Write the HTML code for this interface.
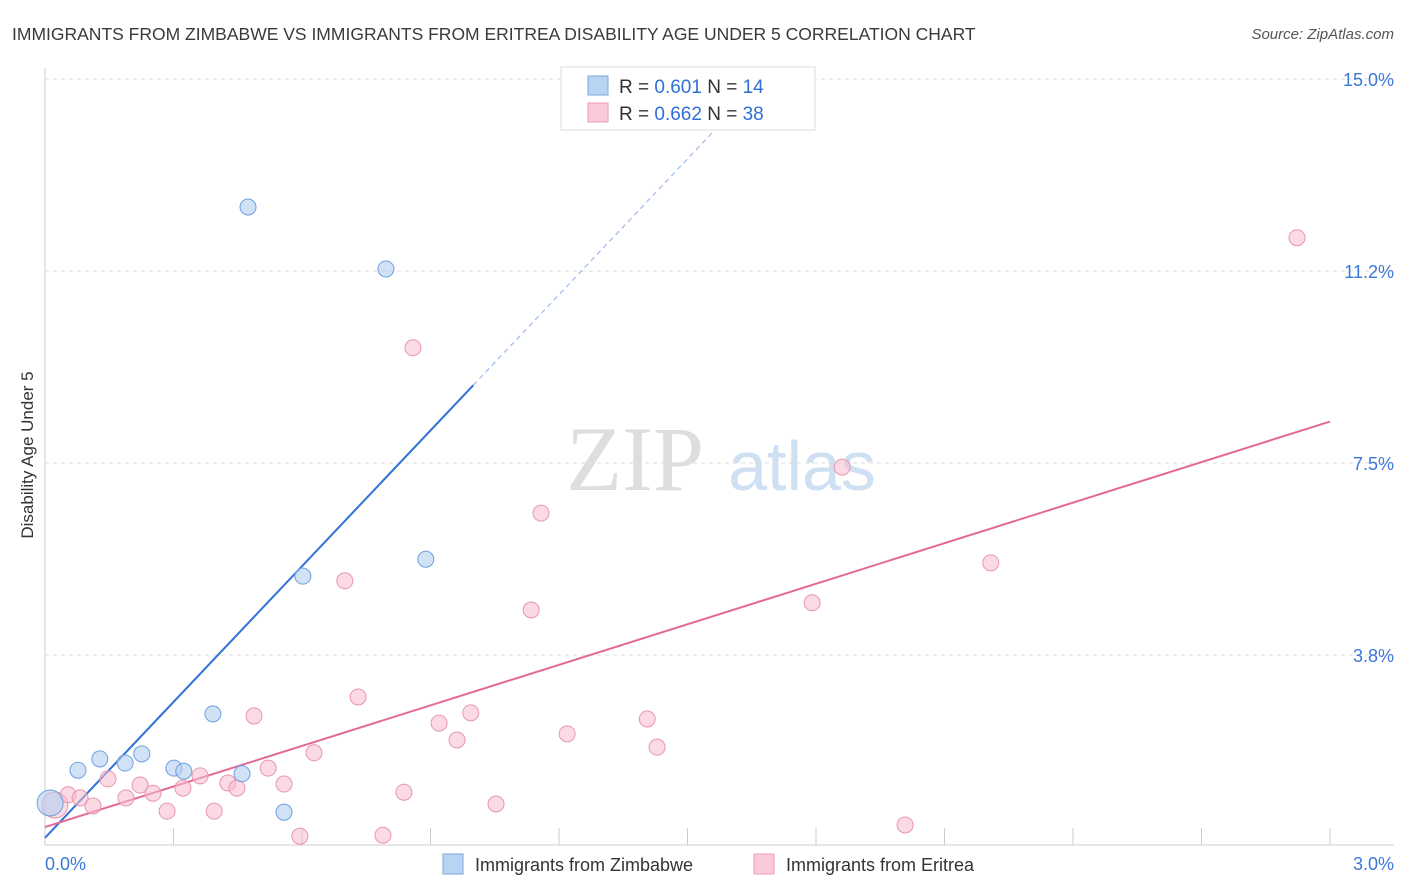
<!DOCTYPE html>
<html><head><meta charset="utf-8"><style>
body{margin:0;background:#fff;font-family:"Liberation Sans",sans-serif;}
svg{display:block}
</style></head><body>
<svg id="chart" width="1406" height="892">
<text x="12" y="40" font-size="17.5" fill="#3a3a3a">IMMIGRANTS FROM ZIMBABWE VS IMMIGRANTS FROM ERITREA DISABILITY AGE UNDER 5 CORRELATION CHART</text>
<text x="1394" y="39" font-size="15" fill="#555" text-anchor="end" font-style="italic">Source: ZipAtlas.com</text>
<text x="33" y="455" font-size="17" fill="#333" text-anchor="middle" transform="rotate(-90 33 455)">Disability Age Under 5</text>
<g>
<text x="635" y="490" font-size="92" fill="#dedede" text-anchor="middle" font-family="Liberation Serif,serif">ZIP</text>
<text x="802" y="490" font-size="70" fill="#cfe0f3" text-anchor="middle">atlas</text>
</g>
<g id="grid"></g><g id="axes"></g><g id="lines"></g><g id="pts"></g>
<g>
<rect x="561" y="67" width="254" height="63" fill="#fff" stroke="#ddd"/>
<rect x="588" y="76" width="20" height="19" fill="#b9d3f3" stroke="#7aa7e0"/>
<rect x="588" y="103" width="20" height="19" fill="#fbc9d8" stroke="#ee9bb5"/>
<text x="619" y="93" font-size="19" fill="#333">R = <tspan fill="#2f6fd8">0.601</tspan>   N = <tspan fill="#2f6fd8">14</tspan></text>
<text x="619" y="120" font-size="19" fill="#333">R = <tspan fill="#2f6fd8">0.662</tspan>   N = <tspan fill="#2f6fd8">38</tspan></text>
</g>
<g>
<rect x="443" y="854" width="20" height="20" fill="#b9d3f3" stroke="#7aa7e0"/>
<text x="475" y="871" font-size="18" fill="#333">Immigrants from Zimbabwe</text>
<rect x="754" y="854" width="20" height="20" fill="#fbc9d8" stroke="#ee9bb5"/>
<text x="786" y="871" font-size="18" fill="#333">Immigrants from Eritrea</text>
</g>
</svg>
<script>
const yTicks=[3.75,7.5,11.25,15];
const yTickLabels=["3.8%","7.5%","11.2%","15.0%"];
const xTickCount=10;
const xLabels=["0.0%","3.0%"];
const blueX=[0.012,0.077,0.128,0.187,0.226,0.301,0.324,0.392,0.460,0.474,0.558,0.602,0.796,0.889];
const blueY=[0.86,1.50,1.72,1.64,1.82,1.54,1.48,2.60,1.43,12.50,0.68,5.29,11.29,5.62];
const pinkX=[0.023,0.054,0.082,0.112,0.147,0.189,0.222,0.252,0.285,0.322,0.362,0.395,0.427,0.448,0.488,0.521,0.558,0.595,0.628,0.700,0.731,0.789,0.838,0.859,0.920,0.962,0.994,1.053,1.135,1.158,1.219,1.406,1.429,1.791,1.861,2.008,2.208,2.923];
const pinkY=[0.82,1.02,0.96,0.80,1.33,0.96,1.21,1.05,0.70,1.15,1.39,0.70,1.25,1.15,2.56,1.54,1.23,0.21,1.84,5.20,2.93,0.23,1.07,9.75,2.42,2.09,2.62,0.84,4.63,6.52,2.21,2.50,1.95,4.77,7.42,0.43,5.55,11.90];
const blueFit=[0.18,8.84]; // intercept, slope
const pinkFit=[0.39,2.64];
const NS="http://www.w3.org/2000/svg";
const X=v=>45+v/3*1285, Y=v=>847-v/3.75*192;
function mk(tag,attrs,parent){const e=document.createElementNS(NS,tag);for(const k in attrs)e.setAttribute(k,attrs[k]);document.getElementById(parent).appendChild(e);return e;}
yTicks.forEach((t,i)=>{
 const l=mk('line',{x1:45,x2:1394,y1:Y(t),y2:Y(t),stroke:'#ddd','stroke-dasharray':'4,4'},'grid');
 
 
 const tx=mk('text',{x:1394,y:Y(t)+7,'font-size':18,fill:'#3b78d8','text-anchor':'end'},'grid');
 tx.textContent=yTickLabels[i];
 
 
});
const ax=mk('line',{x1:45,x2:45,y1:68,y2:845,stroke:'#ccc'},'axes');


const bx=mk('line',{x1:45,x2:1394,y1:845,y2:845,stroke:'#ccc'},'axes');


for(let i=0;i<=xTickCount;i++){
 const t=mk('line',{x1:X(i*0.3),x2:X(i*0.3),y1:828,y2:845,stroke:'#ccc'},'axes');
 
 
}
[[0,'start',45],[3,'end',1394]].forEach((d,i)=>{
 const tx=mk('text',{x:d[2],y:870,'font-size':18,fill:'#3b78d8','text-anchor':d[1]},'axes');
 tx.textContent=xLabels[i];
 
 
});
// trend lines
const bEnd=1.0;
const bl=mk('line',{x1:X(0),y1:Y(blueFit[0]),x2:X(bEnd),y2:Y(blueFit[0]+blueFit[1]*bEnd),stroke:'#2e72d8','stroke-width':2},'lines');


const bMax=(15-blueFit[0])/blueFit[1]*0.96+0.0;
const bd=mk('line',{x1:X(bEnd),y1:Y(blueFit[0]+blueFit[1]*bEnd),x2:X(bMax),y2:Y(blueFit[0]+blueFit[1]*bMax),stroke:'#9bbbe8','stroke-width':1.2,'stroke-dasharray':'5,4'},'lines');


const pl=mk('line',{x1:X(0),y1:Y(pinkFit[0]),x2:X(3),y2:Y(pinkFit[0]+pinkFit[1]*3),stroke:'#e46a96','stroke-width':2},'lines');


pinkX.forEach((x,i)=>{
 const c=mk('circle',{cx:X(x),cy:Y(pinkY[i]),r:i==0?13:8,fill:'#f7bccd','fill-opacity':0.55,stroke:'#e896b0','stroke-width':1},'pts');
 
 
});
blueX.forEach((x,i)=>{
 const c=mk('circle',{cx:X(x),cy:Y(blueY[i]),r:i==0?13:8,fill:'#b3cff2','fill-opacity':0.6,stroke:'#6f9fe0','stroke-width':1},'pts');
 
 
});
</script>
</body></html>
